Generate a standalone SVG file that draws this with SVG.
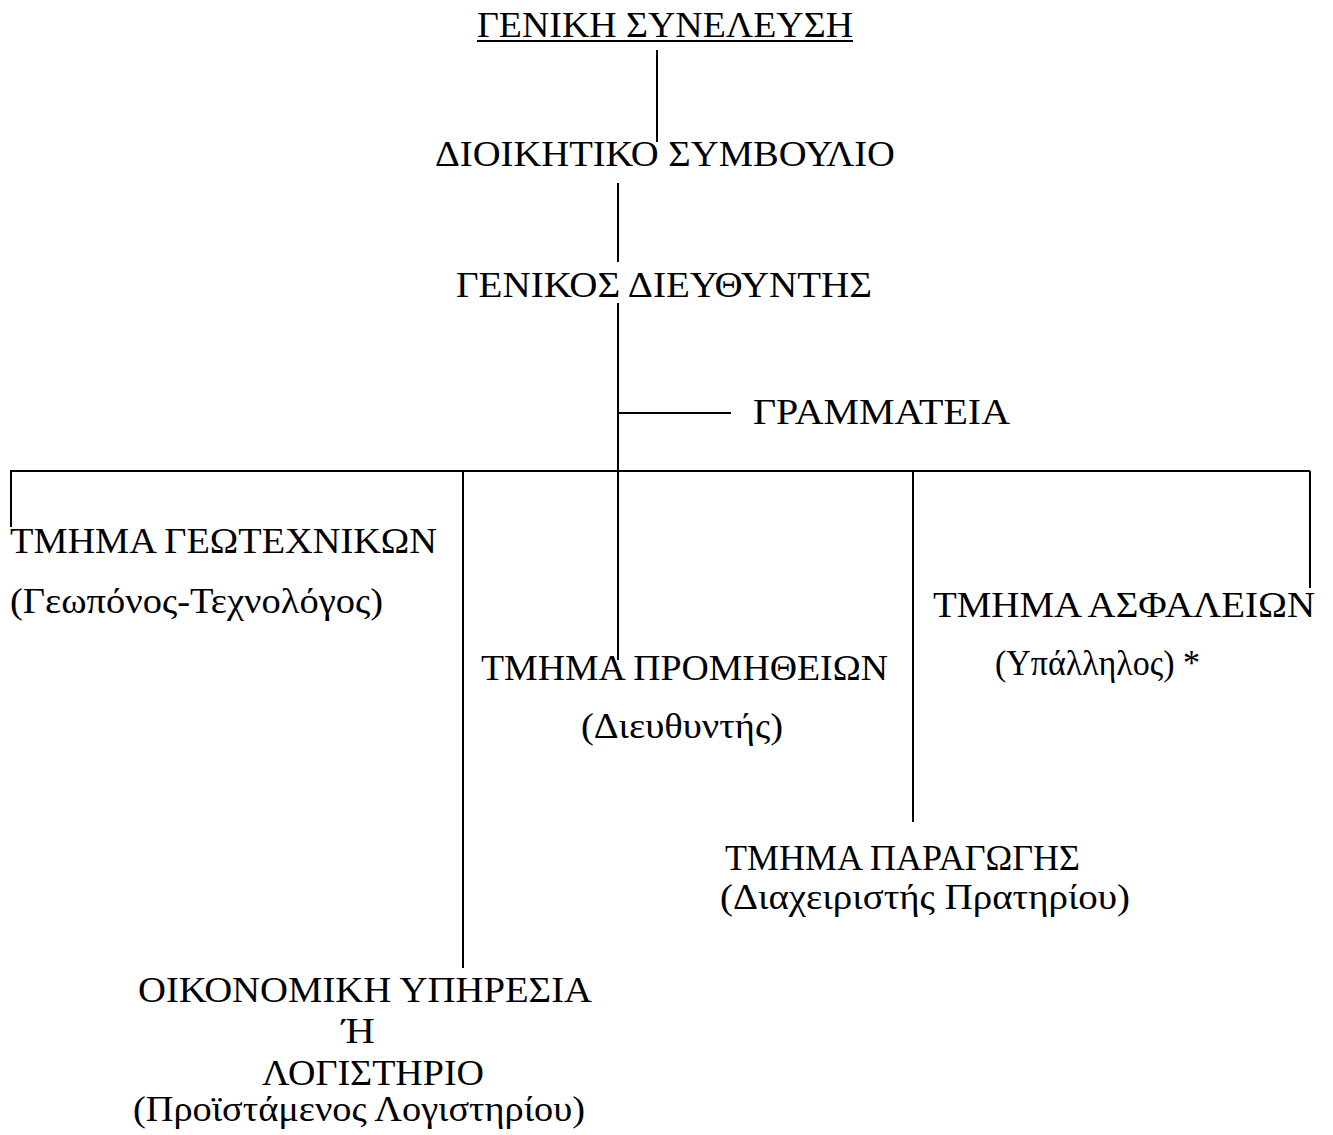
<svg xmlns="http://www.w3.org/2000/svg" width="1333" height="1135" viewBox="0 0 1333 1135">
<style>
text{font-family:"Liberation Serif","DejaVu Serif","Times New Roman",serif;font-size:36px;fill:#000}
.c line{stroke:#000;stroke-width:2}
</style>
<rect width="1333" height="1135" fill="#fff"/>
<g class="c" id="connectors">
<line x1="657" y1="50" x2="657" y2="142"/>
<line x1="618" y1="183" x2="618" y2="262"/>
<line x1="618" y1="303" x2="618" y2="660"/>
<line x1="618" y1="413" x2="731" y2="413"/>
<line x1="10" y1="471" x2="1310" y2="471"/>
<line x1="11" y1="471" x2="11" y2="527"/>
<line x1="463" y1="471" x2="463" y2="968"/>
<line x1="913" y1="471" x2="913" y2="822"/>
<line x1="1310" y1="471" x2="1310" y2="588"/>
</g>
<g id="n-gs"><text x="477" y="37" textLength="376" lengthAdjust="spacingAndGlyphs">ΓΕΝΙΚΗ ΣΥΝΕΛΕΥΣΗ</text><line x1="477" y1="41" x2="853" y2="41" stroke="#000" stroke-width="2"/></g>
<g id="n-ds"><text x="435" y="166" textLength="460" lengthAdjust="spacingAndGlyphs">ΔΙΟΙΚΗΤΙΚΟ ΣΥΜΒΟΥΛΙΟ</text></g>
<g id="n-gd"><text x="456" y="297" textLength="416" lengthAdjust="spacingAndGlyphs">ΓΕΝΙΚΟΣ ΔΙΕΥΘΥΝΤΗΣ</text></g>
<g id="n-gr"><text x="753" y="424" textLength="257" lengthAdjust="spacingAndGlyphs">ΓΡΑΜΜΑΤΕΙΑ</text></g>
<g id="n-geo"><text x="10" y="553" textLength="427" lengthAdjust="spacingAndGlyphs">ΤΜΗΜΑ ΓΕΩΤΕΧΝΙΚΩΝ</text><text x="10" y="613" textLength="373" lengthAdjust="spacingAndGlyphs">(Γεωπόνος-Τεχνολόγος)</text></g>
<g id="n-prom"><text x="481" y="680" textLength="407" lengthAdjust="spacingAndGlyphs">ΤΜΗΜΑ ΠΡΟΜΗΘΕΙΩΝ</text><text x="581" y="738" textLength="202" lengthAdjust="spacingAndGlyphs">(Διευθυντής)</text></g>
<g id="n-asf"><text x="933" y="617" textLength="382" lengthAdjust="spacingAndGlyphs">ΤΜΗΜΑ ΑΣΦΑΛΕΙΩΝ</text><text x="995" y="675" textLength="205" lengthAdjust="spacingAndGlyphs">(Υπάλληλος) *</text></g>
<g id="n-par"><text x="725" y="870" textLength="355" lengthAdjust="spacingAndGlyphs">ΤΜΗΜΑ ΠΑΡΑΓΩΓΗΣ</text><text x="720" y="909" textLength="410" lengthAdjust="spacingAndGlyphs">(Διαχειριστής Πρατηρίου)</text></g>
<g id="n-oik"><text x="138" y="1002" textLength="454" lengthAdjust="spacingAndGlyphs">ΟΙΚΟΝΟΜΙΚΗ ΥΠΗΡΕΣΙΑ</text><text x="342" y="1043" textLength="33" lengthAdjust="spacingAndGlyphs">Ή</text><text x="262" y="1085" textLength="222" lengthAdjust="spacingAndGlyphs">ΛΟΓΙΣΤΗΡΙΟ</text><text x="133" y="1121" textLength="452" lengthAdjust="spacingAndGlyphs">(Προϊστάμενος Λογιστηρίου)</text></g>
</svg>
